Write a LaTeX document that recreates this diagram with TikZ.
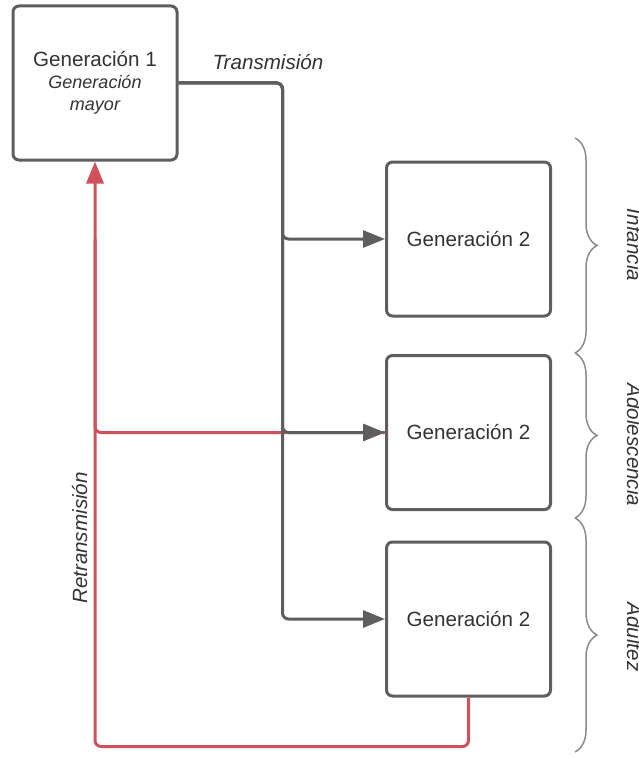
\documentclass[tikz,border=0pt]{standalone}
\usepackage{fontspec}
\setmainfont{Liberation Sans}
\usetikzlibrary{arrows.meta,decorations.pathreplacing}
\definecolor{linegray}{HTML}{5E5E5E}
\definecolor{retred}{HTML}{D0505C}
\definecolor{txtgray}{HTML}{333333}
\definecolor{bracegray}{HTML}{8A8A8A}
\newcommand{\gensub}[1]{{\fontsize{18}{22}\selectfont\itshape #1}}

\begin{document}
\begin{tikzpicture}[x=1pt,y=-1pt,
  gen/.style={draw=linegray, line width=3pt, rounded corners=6pt, fill=white,
    minimum width=164pt, minimum height=154pt, inner sep=0pt, text=txtgray,
    font=\fontsize{20.6}{23}\selectfont, align=center},
  trans/.style={draw=linegray, line width=3pt, rounded corners=6pt,
    -{Triangle[length=22pt,width=17pt]}},
  retr/.style={draw=retred, line width=3pt, rounded corners=6pt},
  stage/.style={draw=bracegray, line width=1.5pt, decorate,
    decoration={brace, amplitude=22pt}},
  lbl/.style={text=txtgray, font=\fontsize{20.6}{24}\selectfont\itshape, inner sep=0pt}]
\useasboundingbox (0,0) rectangle (639,757);
% generaciones
\node[gen] (g1) at (95,83) {Generación 1\\[-1pt] \gensub{Generación}\\[-1pt] \gensub{mayor}};
\node[gen] (g2a) at (468.5,239) {Generación 2};
\node[gen] (g2b) at (468.5,432.5) {Generación 2};
\node[gen] (g2c) at (468.5,619) {Generación 2};
% retransmision
\draw[retr] (g1.south |- g2a.west) |- (g2b.west);
\draw[retr, -{Triangle[length=22pt,width=17pt]}] (g2c.south) -- ++(0,49) -| (g1.south);
\node[lbl, rotate=90, anchor=base] (ret) at (87,538) {Retransmisión};
% transmision
\draw[trans] (g1.east) -- ++(104,0) |- (g2a.west);
\draw[trans] (g1.east) -- ++(104,0) |- (g2b.west);
\draw[trans] (g1.east) -- ++(104,0) |- (g2c.west);
\node[lbl, anchor=base] (tra) at (268,70) {Transmisión};
% etapas
\draw[stage] (575,138) -- (575,353);
\draw[stage] (575,353) -- (575,518);
\draw[stage] (575,518) -- (575,752);
\node[lbl, rotate=-90, anchor=base] (inf) at (627,245) {Infancia};
\node[lbl, rotate=-90, anchor=base] (ado) at (627,445) {Adolescencia};
\node[lbl, rotate=-90, anchor=base] (adu) at (627,637) {Adultez};
\end{tikzpicture}
\end{document}
